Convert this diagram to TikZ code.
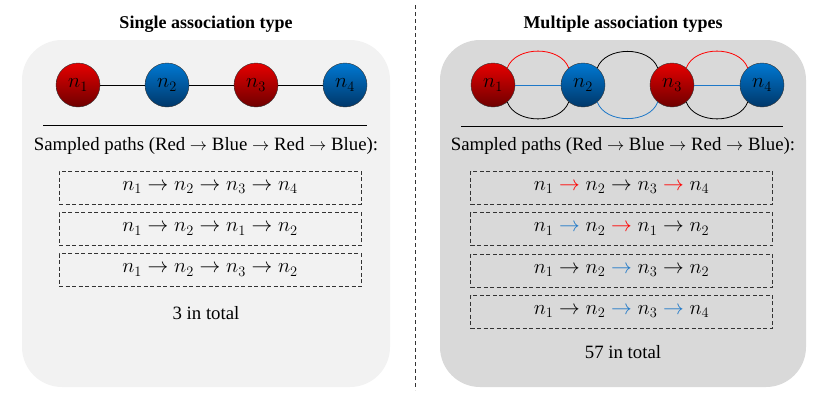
\documentclass[tikz,border=0pt]{standalone}
\usepackage{fontspec}
\setmainfont{Liberation Serif}
\usepackage{tikz}
\usetikzlibrary{shapes, arrows, positioning, calc}
\definecolor{nodered}{RGB}{230, 0, 0}
\definecolor{darkred}{RGB}{110, 0, 0}
\definecolor{nodeblue}{RGB}{0, 120, 210}
\definecolor{darkblue}{RGB}{0, 55, 105}
\definecolor{edgered}{RGB}{255, 0, 0}
\definecolor{edgeblue}{RGB}{30, 120, 200}
\definecolor{panelone}{RGB}{242, 242, 242}
\definecolor{paneltwo}{RGB}{217, 217, 217}
\tikzset{
    rednode/.style={circle, draw=black!80, thin, minimum size=44pt, inner sep=0pt,
        top color=nodered, bottom color=darkred, font=\fontsize{20}{20}\selectfont},
    bluenode/.style={circle, draw=black!80, thin, minimum size=44pt, inner sep=0pt,
        top color=nodeblue, bottom color=darkblue, font=\fontsize{20}{20}\selectfont},
    pathbox/.style={draw=black!80, dash pattern=on 4pt off 2.5pt, thick, minimum width=302pt,
        minimum height=33pt, inner sep=0pt, font=\fontsize{20.5}{20}\selectfont},
    label/.style={font=\fontsize{18.8}{20}\selectfont},
    heading/.style={font=\fontsize{18}{20}\selectfont\bfseries},
    link/.style={line width=0.8pt}
}
\newcommand{\ra}{\rightarrow}
\newcommand{\rr}{\mathrel{\textcolor{edgered}{\rightarrow}}}
\newcommand{\rb}{\mathrel{\textcolor{edgeblue}{\rightarrow}}}

\begin{document}
\begin{tikzpicture}[x=1pt, y=-1pt]
        \useasboundingbox (0, 0) rectangle (830, 399);
        % panels
        \fill[panelone, rounded corners=40pt] (22, 40) rectangle (390, 387);
        \fill[paneltwo, rounded corners=40pt] (440, 40) rectangle (806, 387);
        \draw[black!80, thick, dash pattern=on 4pt off 3pt] (415, 5) -- (415, 390);
        \node[heading] (t1) at (206, 24) {Single association type};
        \node[heading] (t2) at (623, 24) {Multiple association types};

        % single type
        \node[rednode] (a1) at (78, 85) {$n_1$};
        \node[bluenode] (a2) at (167, 85) {$n_2$};
        \node[rednode] (a3) at (256, 85) {$n_3$};
        \node[bluenode] (a4) at (345, 85) {$n_4$};
        \draw[link] (a1) -- (a2) (a2) -- (a3) (a3) -- (a4);
        \draw[thick] (43, 125) -- (367, 125);
        \node[label] (s1) at (206, 146) {Sampled paths (Red $\ra$ Blue $\ra$ Red $\ra$ Blue):};
        \node[pathbox] (p1) at (210, 187.5) {$n_1 \ra n_2 \ra n_3 \ra n_4$};
        \node[pathbox] (p2) at (210, 229) {$n_1 \ra n_2 \ra n_1 \ra n_2$};
        \node[pathbox] (p3) at (210, 270) {$n_1 \ra n_2 \ra n_3 \ra n_2$};
        \node[label] (c1) at (206, 313) {3 in total};

        % multiple types
        \node[rednode] (b1) at (493, 85) {$n_1$};
        \node[bluenode] (b2) at (583, 85) {$n_2$};
        \node[rednode] (b3) at (672, 85) {$n_3$};
        \node[bluenode] (b4) at (762, 85) {$n_4$};
        \draw[link, edgered] (b1.50) to[out=70, in=110] (b2.130);
        \draw[link, edgeblue] (b1) -- (b2);
        \draw[link] (b1.-50) to[out=-70, in=-110] (b2.-130);
        \draw[link] (b2.50) to[out=70, in=110] (b3.130);
        \draw[link, edgeblue] (b2.-50) to[out=-70, in=-110] (b3.-130);
        \draw[link, edgered] (b3.50) to[out=70, in=110] (b4.130);
        \draw[link, edgeblue] (b3) -- (b4);
        \draw[link] (b3.-50) to[out=-70, in=-110] (b4.-130);
        \draw[thick] (461, 126) -- (783, 126);
        \node[label] (s2) at (623, 146) {Sampled paths (Red $\ra$ Blue $\ra$ Red $\ra$ Blue):};
        \node[pathbox] (q1) at (621.5, 187.5) {$n_1 \rr n_2 \ra n_3 \rr n_4$};
        \node[pathbox] (q2) at (621.5, 229) {$n_1 \rb n_2 \rr n_1 \ra n_2$};
        \node[pathbox] (q3) at (621.5, 270.5) {$n_1 \ra n_2 \rb n_3 \ra n_2$};
        \node[pathbox] (q4) at (621.5, 311.5) {$n_1 \ra n_2 \rb n_3 \rb n_4$};
        \node[label] (c2) at (623, 352) {57 in total};
    \end{tikzpicture}
\end{document}
